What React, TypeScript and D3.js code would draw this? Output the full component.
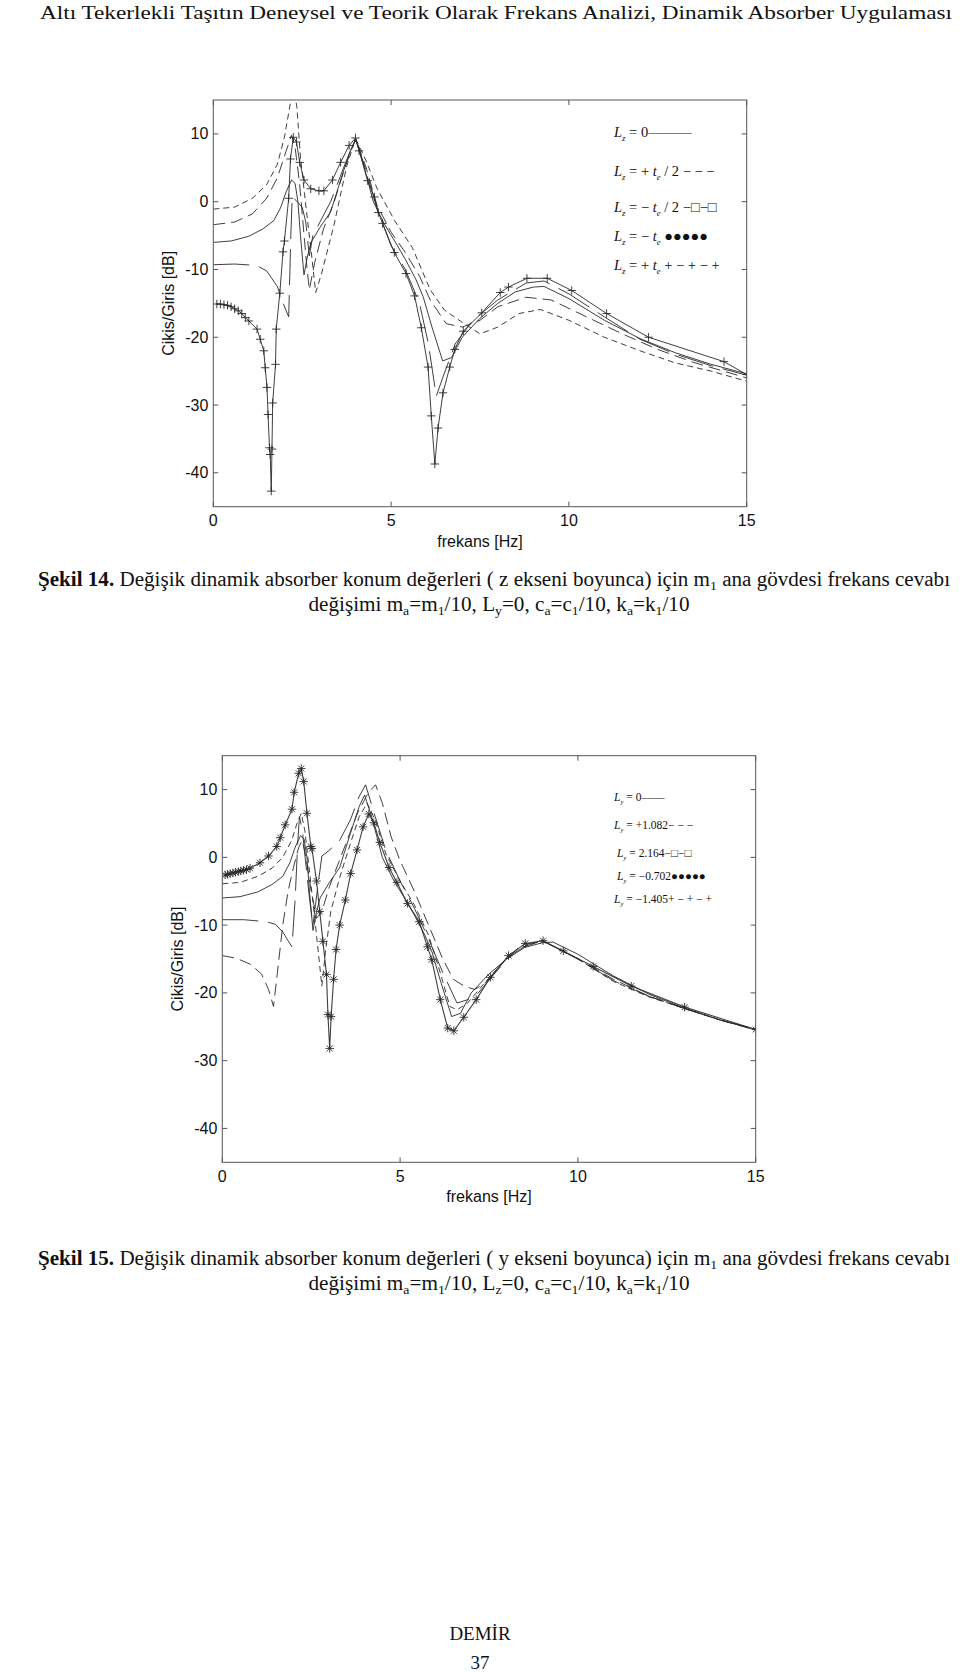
import React from 'react';
import * as d3 from 'd3';

type Pt = [number, number];

// ---------- axis data ----------
const xTickValues = [0, 5, 10, 15];
const yTickValues = [-40, -30, -20, -10, 0, 10];
const xDomain: [number, number] = [0, 15];
const yDomain: [number, number] = [-45, 15];

// ---------- Şekil 14 (z ekseni) ----------
const f14_Lz0: Pt[] = [
  [0, -6], [0.5, -5.8], [1.0, -5.1], [1.4, -4], [1.7, -2.8], [1.9, -0.8], [2.05, 1.5], [2.2, 3.2], [2.3, 2.7],
  [2.38, 0], [2.45, -5], [2.55, -10.8], [2.65, -8], [2.75, -6], [3.0, -3.8], [3.3, -1.5], [3.6, 3.5], [3.85, 7.5],
  [4.0, 9.2], [4.2, 6], [4.5, 0], [4.8, -3.2], [5.1, -5.8], [5.4, -8.5], [5.7, -11.5], [5.9, -14], [6.15, -18.5],
  [6.45, -23.5], [6.7, -23], [7.0, -20], [7.5, -17.2], [8.0, -15], [8.5, -13.3], [9.0, -12.6], [9.3, -12.5],
  [10, -14.3], [11, -17.5], [12, -20.2], [13, -22.3], [14, -24], [15, -25.4],
];
const f14_LzPlusHalf: Pt[] = [
  [0, -3.4], [0.6, -3.0], [1.1, -1.8], [1.5, 0.5], [1.8, 3.5], [2.05, 7.5], [2.2, 9.8], [2.3, 8], [2.42, 3],
  [2.52, -3], [2.62, -9], [2.7, -13], [2.85, -9], [3.1, -4], [3.4, 0], [3.7, 5], [4.0, 9.3], [4.3, 5], [4.6, -0.5],
  [5.0, -4.5], [5.4, -7.5], [5.8, -11], [6.1, -14.5], [6.55, -18], [7.0, -18.5], [7.5, -17.5], [8.0, -15.5],
  [8.8, -14.1], [9.5, -14.5], [10.5, -17], [11.5, -19.5], [12.5, -21.8], [13.5, -23.7], [15, -26],
];
const f14_LzMinusHalf: Pt[] = [
  [0, -9.3], [0.6, -9.2], [1.2, -9.4], [1.5, -10.2], [1.8, -12.5], [1.95, -14.8], [2.12, -17], [2.18, -5],
  [2.22, 0.8], [2.32, 0.2], [2.5, -0.8], [2.6, -3], [2.7, -8], [2.8, -5], [3.0, -3], [3.3, 0], [3.7, 5.5],
  [4.0, 9.3], [4.3, 4.5], [4.6, -1], [5.0, -6.5], [5.4, -10], [5.8, -15], [6.05, -21], [6.27, -28.7],
  [6.45, -26], [6.8, -21], [7.3, -17.5], [8.0, -14.5], [8.8, -12], [9.3, -11.7], [10, -13.6], [11, -17],
  [12, -20.3], [13, -22.5], [14, -24.2], [15, -25.6],
];
const f14_LzMinus: Pt[] = [
  [0, -1.1], [0.6, -0.8], [1.1, 0.5], [1.5, 2.5], [1.8, 5.5], [2.0, 9.5], [2.15, 14], [2.25, 17], [2.35, 14],
  [2.45, 6.6], [2.6, -0.5], [2.75, -7.2], [2.88, -13.4], [3.05, -10.5], [3.4, -3.3], [3.75, 5.2], [4.0, 9.3],
  [4.3, 6], [4.6, 2], [5.1, -2.8], [5.6, -6.8], [6.1, -13], [6.5, -16], [7.0, -17.8], [7.5, -19.5], [8.0, -18.5],
  [8.6, -16.5], [9.2, -15.9], [10, -17.5], [11, -20], [12, -22], [13, -23.8], [14, -25], [15, -26.5],
];
const f14_LzPlus: Pt[] = [
  [0.1, -15.1], [0.2, -15.1], [0.3, -15.2], [0.4, -15.3], [0.5, -15.5], [0.6, -15.8], [0.7, -16.1], [0.8, -16.5],
  [0.9, -17.1], [1.0, -17.6], [1.23, -18.8], [1.32, -20.3], [1.42, -22], [1.46, -24.5], [1.51, -27.4],
  [1.54, -31.4], [1.58, -36.3], [1.6, -37.3], [1.63, -42.7], [1.65, -36.5], [1.67, -29.7], [1.75, -24],
  [1.77, -18.8], [1.87, -13.5], [1.96, -7.4], [2.0, -5.8], [2.12, 0.5], [2.17, 6.3], [2.25, 9.5], [2.34, 8.8],
  [2.43, 5.8], [2.55, 3.2], [2.74, 1.9], [2.97, 1.6], [3.11, 1.6], [3.35, 3.2], [3.58, 5.8], [3.82, 8.3],
  [4.0, 9.4], [4.1, 7.5], [4.34, 3.1], [4.53, 0.7], [4.64, -1.6], [4.76, -3.2], [5.09, -7.5], [5.42, -10.6],
  [5.66, -13.9], [5.85, -18.6], [6.04, -24.4], [6.13, -31.6], [6.23, -38.7], [6.32, -33.4], [6.46, -28.2],
  [6.65, -24.4], [6.79, -21.8], [7.03, -19.1], [7.55, -16.4], [8.07, -13.4], [8.3, -12.6], [8.82, -11.3],
  [9.39, -11.3], [10.08, -13.1], [11.06, -16.5], [12.24, -20.0], [14.36, -23.6], [15.0, -25.5],
];

// ---------- Şekil 15 (y ekseni) ----------
const f15_Ly0: Pt[] = f14_Lz0;
const f15_Ly1082: Pt[] = [
  [0, -14.5], [0.4, -14.9], [0.8, -15.8], [1.1, -17.2], [1.3, -19.5], [1.44, -22], [1.55, -17], [1.7, -10],
  [1.85, -5], [2.0, -1.5], [2.15, 1.5], [2.25, 2.5], [2.35, 0], [2.5, -5], [2.65, -9], [2.8, -8], [3.0, -4.5],
  [3.4, 1], [3.8, 6.5], [4.1, 9.5], [4.31, 10.7], [4.5, 8], [4.75, 3], [5.0, -0.5], [5.4, -5], [5.8, -10],
  [6.2, -15], [6.5, -18], [6.8, -19], [7.1, -19.5], [7.4, -18.5], [7.8, -16], [8.3, -13.5], [9.0, -12.3],
  [10, -15], [11, -18], [12, -20.5], [13, -22.3], [14, -24], [15, -25.5],
];
const f15_Ly2164: Pt[] = [
  [0, -9.2], [0.6, -9.2], [1.25, -9.5], [1.5, -9.9], [1.7, -11], [1.85, -12.3], [1.96, -13.2], [2.05, -6],
  [2.12, 2], [2.17, 6], [2.25, 4], [2.35, -1], [2.45, -6], [2.55, -10], [2.62, -7], [2.8, 0.2], [3.0, 1],
  [3.3, 2.5], [3.6, 5.5], [3.85, 9], [4.03, 10.7], [4.3, 6], [4.6, 1], [5.0, -3.5], [5.4, -7.5], [5.8, -12],
  [6.2, -17], [6.6, -21.5], [6.9, -21], [7.2, -20], [7.6, -17.5], [8.1, -14.5], [8.6, -12.8], [9.0, -12.3],
  [10, -15], [11, -18.2], [12, -20.5], [13, -22.3], [14, -24], [15, -25.4],
];
const f15_LyM0702: Pt[] = [
  [0, -3.9], [0.5, -3.7], [1.0, -2.8], [1.4, -1.6], [1.7, 0], [1.95, 2.5], [2.1, 5], [2.22, 6.5], [2.32, 4],
  [2.45, -2], [2.6, -9], [2.72, -15], [2.8, -19], [2.9, -14], [3.05, -8], [3.3, -3], [3.6, 2], [3.85, 6],
  [4.07, 8], [4.3, 5.5], [4.6, 0.5], [5.0, -3.5], [5.4, -7], [5.8, -11.5], [6.1, -16.5], [6.4, -22],
  [6.6, -22.5], [6.9, -21.5], [7.3, -19], [7.8, -16], [8.3, -13.5], [9.0, -12.3], [10, -15], [11, -18.3],
  [12, -20.6], [13, -22.3], [14, -24], [15, -25.4],
];
const f15_LyM1405: Pt[] = [
  [0.08, -2.6], [0.15, -2.5], [0.22, -2.4], [0.3, -2.3], [0.37, -2.2], [0.45, -2.1], [0.52, -2.0], [0.6, -1.9],
  [0.68, -1.8], [0.78, -1.6], [1.06, -0.8], [1.3, 0.2], [1.53, 1.6], [1.63, 2.9], [1.77, 4.8], [1.96, 7.1],
  [2.02, 9.6], [2.15, 12.4], [2.22, 13.1], [2.29, 11.2], [2.38, 6.5], [2.49, 1.6], [2.52, 1.3], [2.65, -3.5],
  [2.74, -8], [2.83, -12.4], [2.93, -17.3], [2.97, -23.2], [3.02, -28.2], [3.06, -23.5], [3.13, -18],
  [3.2, -13.6], [3.3, -10], [3.46, -6.3], [3.61, -2.4], [3.79, 1.1], [3.96, 4.5], [4.12, 6.4], [4.26, 5.1],
  [4.43, 2.2], [4.69, -1.5], [4.91, -3.7], [5.21, -6.8], [5.54, -9.5], [5.77, -13.2], [5.89, -15.1],
  [6.13, -21], [6.34, -25.2], [6.51, -25.6], [6.79, -23.6], [7.14, -21], [7.54, -17.7], [8.05, -14.5],
  [8.52, -12.7], [9.02, -12.3], [9.59, -13.8], [10.43, -16.1], [11.5, -19], [13.0, -22.1], [15.0, -25.4],
];

// ---------- texts ----------
const pageHeader = 'Altı Tekerlekli Taşıtın Deneysel ve Teorik Olarak  Frekans Analizi, Dinamik Absorber Uygulaması';
const yAxisTitle = 'Cikis/Giris [dB]';
const xAxisTitle = 'frekans [Hz]';

type Series = { data: Pt[]; dash?: string; marker?: 'plus' | 'star'; width?: number };

const SERIF = '"Liberation Serif", "Times New Roman", serif';
const SANS = '"Liberation Sans", Arial, Helvetica, sans-serif';
const LINE = '#2a2a2a';

function Chart(props: {
  id: string; left: number; top: number; right: number; bottom: number; series: Series[]; legend: React.ReactNode;
}) {
  const { id, left, top, right, bottom, series, legend } = props;
  const x = d3.scaleLinear().domain(xDomain).range([left, right]);
  const y = d3.scaleLinear().domain(yDomain).range([bottom, top]);
  const line = d3.line<Pt>().x(d => x(d[0])).y(d => y(d[1])).curve(d3.curveLinear);
  const tl = 5;
  const axisColor = '#555';
  return (
    <g>
      <defs>
        <clipPath id={id}>
          <rect x={left} y={top} width={right - left} height={bottom - top} />
        </clipPath>
      </defs>
      <g clipPath={`url(#${id})`}>
        {series.map((s, i) => (
          <g key={i}>
            <path d={line(s.data) || ''} fill="none" stroke={LINE} strokeWidth={s.width ?? 1}
              strokeDasharray={s.dash} strokeOpacity={0.9} />
            {s.marker && s.data.map((d, j) => {
              const cx = x(d[0]), cy = y(d[1]);
              const r = 4.2;
              let p = `M${cx - r},${cy}H${cx + r}M${cx},${cy - r}V${cy + r}`;
              if (s.marker === 'star') {
                const q = 3;
                p += `M${cx - q},${cy - q}L${cx + q},${cy + q}M${cx - q},${cy + q}L${cx + q},${cy - q}`;
              }
              return <path key={j} d={p} stroke={LINE} strokeWidth={0.9} fill="none" />;
            })}
          </g>
        ))}
      </g>
      <rect x={left} y={top} width={right - left} height={bottom - top} fill="none" stroke={axisColor} strokeWidth={1} />
      {xTickValues.map(v => (
        <g key={'x' + v}>
          <line x1={x(v)} x2={x(v)} y1={bottom} y2={bottom - tl} stroke={axisColor} />
          <line x1={x(v)} x2={x(v)} y1={top} y2={top + tl} stroke={axisColor} />
          <text x={x(v)} y={bottom + 19.5} textAnchor="middle" fontFamily={SANS} fontSize={16} fill="#111">{v}</text>
        </g>
      ))}
      {yTickValues.map(v => (
        <g key={'y' + v}>
          <line x1={left} x2={left + tl} y1={y(v)} y2={y(v)} stroke={axisColor} />
          <line x1={right} x2={right - tl} y1={y(v)} y2={y(v)} stroke={axisColor} />
          <text x={left - 5} y={y(v) + 5.5} textAnchor="end" fontFamily={SANS} fontSize={16} fill="#111">{v}</text>
        </g>
      ))}
      <text x={(left + right) / 2} y={bottom + 40} textAnchor="middle" fontFamily={SANS} fontSize={16} fill="#111">{xAxisTitle}</text>
      <text transform={`translate(${left - 45},${(top + bottom) / 2}) rotate(-90)`} textAnchor="middle"
        dominantBaseline="central" fontFamily={SANS} fontSize={16} fill="#111">{yAxisTitle}</text>
      {legend}
    </g>
  );
}

function LegendEntry(props: { x: number; y: number; size: number; sub: string; rest: React.ReactNode }) {
  const { x, y, size, sub, rest } = props;
  const sd = size * 0.3;
  return (
    <text x={x} y={y} fontFamily={SERIF} fontSize={size} fill="#111">
      <tspan fontStyle="italic">L</tspan>
      <tspan fontSize={size * 0.6} dy={sd} fontStyle="italic">{sub}</tspan>
      <tspan dy={-sd}>{rest}</tspan>
    </text>
  );
}

function TE(props: { size: number; pre: string; post: string }) {
  const { size, pre, post } = props;
  const sd = size * 0.3;
  return (
    <>
      <tspan>{pre}</tspan>
      <tspan fontStyle="italic">t</tspan>
      <tspan fontSize={size * 0.6} dy={sd} fontStyle="italic">e</tspan>
      <tspan dy={-sd}>{post}</tspan>
    </>
  );
}

function Sub(props: { s: string; size: number }) {
  return <tspan fontSize={props.size * 0.65} dy={4}>{props.s}</tspan>;
}

export default function App() {
  const series14: Series[] = [
    { data: f14_LzMinus, dash: '6,4' },
    { data: f14_LzPlusHalf, dash: '12,6' },
    { data: f14_LzMinusHalf, dash: '36,10' },
    { data: f14_Lz0 },
    { data: f14_LzPlus, marker: 'plus' },
  ];
  const series15: Series[] = [
    { data: f15_LyM0702, dash: '6,4' },
    { data: f15_Ly1082, dash: '12,6' },
    { data: f15_Ly2164, dash: '36,10' },
    { data: f15_Ly0 },
    { data: f15_LyM1405, marker: 'star', width: 1.1 },
  ];
  const ls1 = 14.5;
  const legend14 = (
    <g>
      <LegendEntry x={614} y={137} size={ls1} sub="z" rest=" = 0———" />
      <LegendEntry x={614} y={176} size={ls1} sub="z" rest={<TE size={ls1} pre=" = + " post=" / 2 − − −" />} />
      <LegendEntry x={614} y={212} size={ls1} sub="z" rest={<TE size={ls1} pre=" = − " post=" / 2 −□−□" />} />
      <LegendEntry x={614} y={241} size={ls1} sub="z" rest={<TE size={ls1} pre=" = − " post=" ●●●●●" />} />
      <LegendEntry x={614} y={270} size={ls1} sub="z" rest={<TE size={ls1} pre=" = + " post=" + − + − +" />} />
    </g>
  );
  const ls2 = 11.5;
  const legend15 = (
    <g>
      <LegendEntry x={614} y={801} size={ls2} sub="y" rest=" = 0——" />
      <LegendEntry x={614} y={829} size={ls2} sub="y" rest=" = +1.082− − −" />
      <LegendEntry x={617} y={857} size={ls2} sub="y" rest=" = 2.164−□−□" />
      <LegendEntry x={617} y={880} size={ls2} sub="y" rest=" = −0.702●●●●●" />
      <LegendEntry x={614} y={903} size={ls2} sub="y" rest=" = −1.405+ − + − +" />
    </g>
  );
  const cs = 20;
  const caption = (yy: number, num: string, axisWord: string, zeroVar: string) => (
    <g>
      <text x={494} y={yy} textAnchor="middle" fontFamily={SERIF} fontSize={cs} fill="#111"
        textLength={912} lengthAdjust="spacingAndGlyphs">
        <tspan fontWeight="bold">{`Şekil ${num}.`}</tspan>
        <tspan>{` Değişik dinamik absorber konum değerleri ( ${axisWord} ekseni boyunca) için m`}</tspan>
        <Sub s="1" size={cs} />
        <tspan dy={-4}> ana gövdesi frekans cevabı</tspan>
      </text>
      <text x={499} y={yy + 24.5} textAnchor="middle" fontFamily={SERIF} fontSize={cs} fill="#111"
        textLength={381} lengthAdjust="spacingAndGlyphs">
        <tspan>değişimi m</tspan><Sub s="a" size={cs} />
        <tspan dy={-4}>=m</tspan><Sub s="1" size={cs} />
        <tspan dy={-4}>{`/10, L`}</tspan><Sub s={zeroVar} size={cs} />
        <tspan dy={-4}>=0, c</tspan><Sub s="a" size={cs} />
        <tspan dy={-4}>=c</tspan><Sub s="1" size={cs} />
        <tspan dy={-4}>/10, k</tspan><Sub s="a" size={cs} />
        <tspan dy={-4}>=k</tspan><Sub s="1" size={cs} />
        <tspan dy={-4}>/10</tspan>
      </text>
    </g>
  );
  return (
    <svg width={960} height={1672} viewBox="0 0 960 1672"
      style={{ position: 'absolute', left: 0, top: 0, background: '#fff' }}>
      <rect x={0} y={0} width={960} height={1672} fill="#fff" />
      <text x={496} y={19} textAnchor="middle" fontFamily={SERIF} fontSize={19} fill="#111"
        textLength={912} lengthAdjust="spacingAndGlyphs">{pageHeader}</text>
      <Chart id="c14" left={213.3} top={100} right={746.7} bottom={506.7} series={series14} legend={legend14} />
      {caption(586, '14', 'z', 'y')}
      <Chart id="c15" left={222.3} top={755.7} right={755.7} bottom={1162.3} series={series15} legend={legend15} />
      {caption(1265, '15', 'y', 'z')}
      <text x={480} y={1640} textAnchor="middle" fontFamily={SERIF} fontSize={19} fill="#111">DEMİR</text>
      <text x={480} y={1669} textAnchor="middle" fontFamily={SERIF} fontSize={19} fill="#111">37</text>
    </svg>
  );
}
